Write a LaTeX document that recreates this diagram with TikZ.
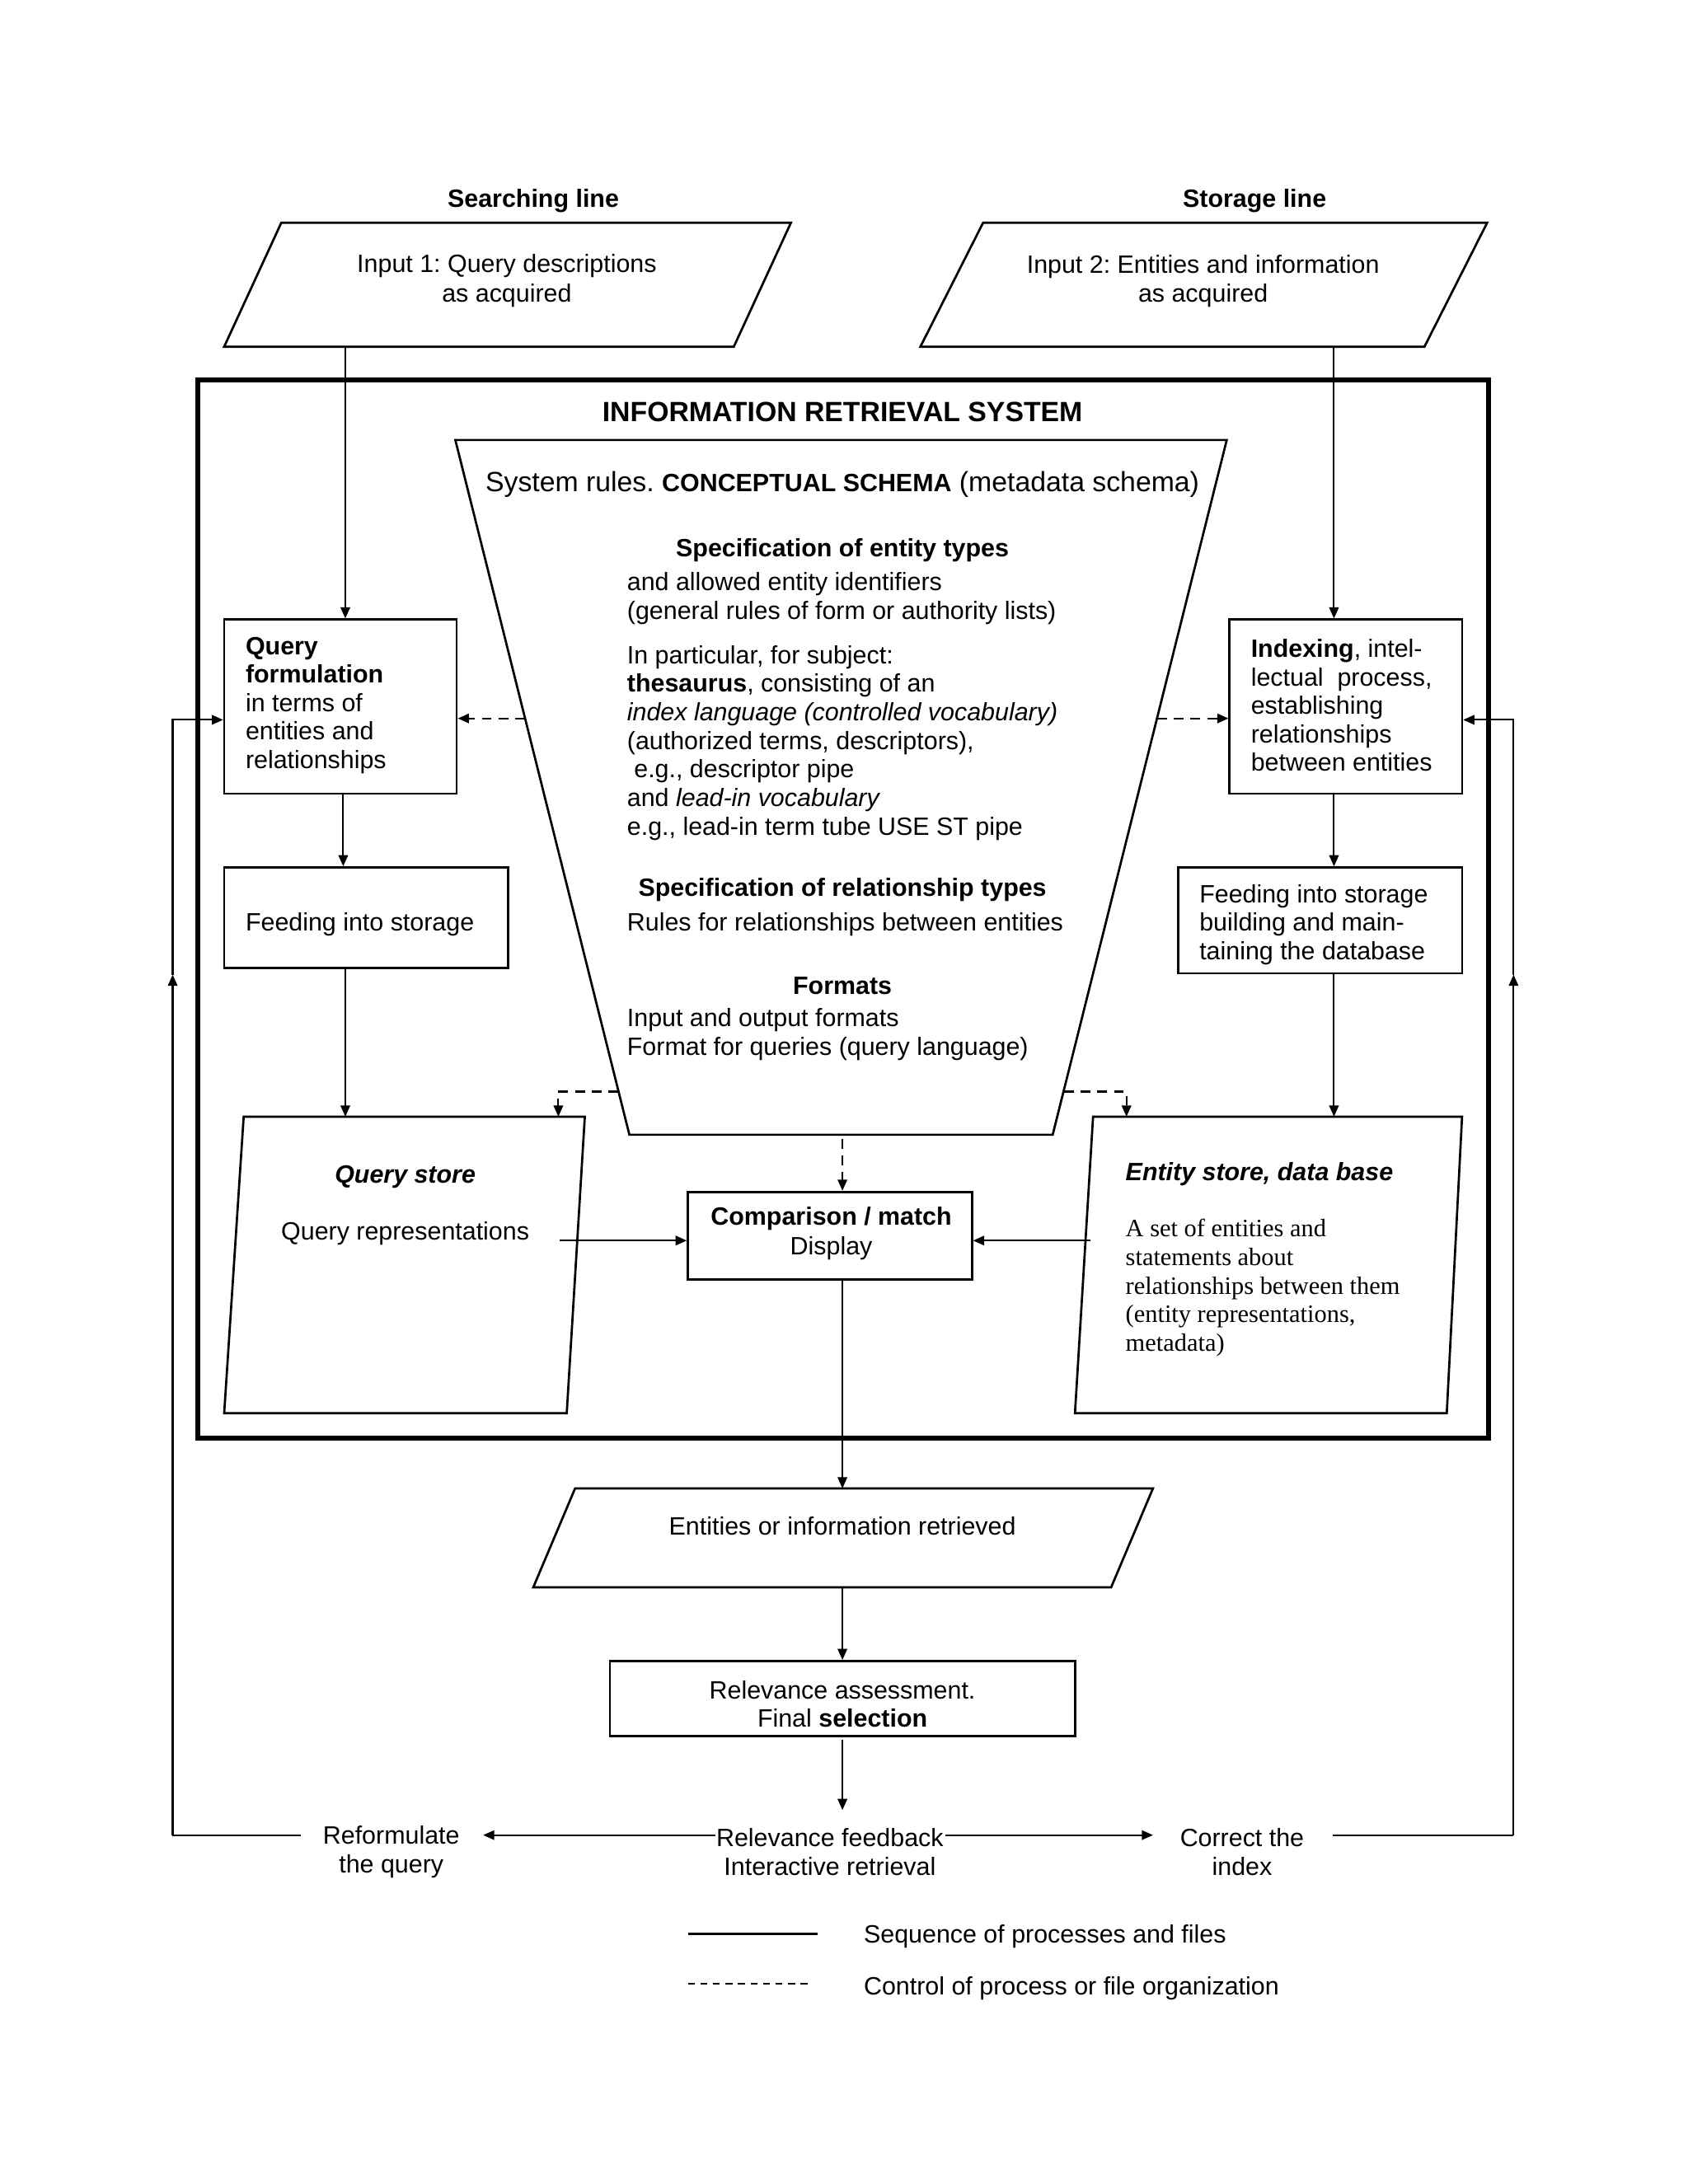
\documentclass[tikz,border=0pt]{standalone}
\usepackage{fontspec}
\setmainfont{Liberation Sans}
\newfontfamily\seriffont{Liberation Serif}
\usetikzlibrary{arrows.meta,calc}
\frenchspacing
\begin{document}
\frenchspacing
\begin{tikzpicture}[x=0.5pt,y=-0.5pt,
  txtbase/.style={font=\fontsize{9}{10.2}\selectfont, inner sep=0pt, yshift=-1pt},
  lbl/.style={txtbase, align=left, anchor=west},
  ctr/.style={txtbase, align=center},
  procbox/.style={draw, line width=0.8pt, inner sep=0pt},
  shapeline/.style={line width=0.8pt, line join=miter},
  arr/.style={line width=0.6pt, -{Triangle[length=4pt,width=3.4pt]}},
  darr/.style={arr, dash pattern=on 3.5pt off 2.5pt},
  thinline/.style={line width=0.6pt}]
\useasboundingbox (0,0) rectangle (1212.2,1568.6);

% titles
\node[ctr] (tsearch) at (383,142) {\textbf{Searching line}};
\node[ctr] (tstore) at (901,142) {\textbf{Storage line}};

% inputs
\draw[shapeline] (202,160) -- (568,160) -- (527,249) -- (161,249) -- cycle;
\node[ctr, font=\fontsize{9}{10.5}\selectfont] (in1) at (364,199.5) {Input 1: Query descriptions\\as acquired};
\draw[shapeline] (706,160) -- (1068,160) -- (1023,249) -- (661,249) -- cycle;
\node[ctr, font=\fontsize{9}{10.5}\selectfont] (in2) at (864,200) {Input 2: Entities and information\\as acquired};
\coordinate (in1b) at (248,249);
\coordinate (in2b) at (958,249);

% IRS frame
\draw[line width=1.8pt] (142,273) rectangle (1069,1033);
\node[ctr] (irs) at (605,294) {\fontsize{10}{12}\selectfont\bfseries INFORMATION RETRIEVAL SYSTEM};

% conceptual schema trapezoid
\draw[shapeline] (327,316) -- (881,316) -- (756,815) -- (452,815) -- cycle;
\node[ctr] (schema) at (605,346) {\fontsize{10}{12}\selectfont System rules. {\fontsize{9}{12}\selectfont\bfseries CONCEPTUAL SCHEMA} (metadata schema)};
\node[ctr] (spec1) at (605,393) {\textbf{Specification of entity types}};
\node[lbl, font=\fontsize{9}{10.25}\selectfont] (g1) at (450,428) {and allowed entity identifiers\\(general rules of form or authority lists)};
\node[lbl, font=\fontsize{9}{10.25}\selectfont] (g2) at (450,531.5) {In particular, for subject:\\\textbf{thesaurus}, consisting of an\\\textit{index language (controlled vocabulary)}\\(authorized terms, descriptors),\\\hspace{2.5pt}e.g., descriptor pipe\\and \textit{lead-in vocabulary}\\e.g., lead-in term tube USE ST pipe};
\node[ctr] (spec2) at (605,637) {\textbf{Specification of relationship types}};
\node[lbl] (g3) at (450,662) {Rules for relationships between entities};
\node[ctr] (spec3) at (605,706) {\textbf{Formats}};
\node[lbl, font=\fontsize{9}{10.25}\selectfont] (g4) at (450,741) {Input and output formats\\Format for queries (query language)};

% left column
\node[procbox, minimum width=83.5pt, minimum height=62.5pt] (qf) at (244.5,507.5) {};
\node[lbl] (qft) at (176,504.5) {\textbf{Query}\\\textbf{formulation}\\in terms of\\entities and\\relationships};
\node[procbox, minimum width=102pt, minimum height=36pt] (feedL) at (263,659) {};
\node[lbl] (feedLt) at (176,662) {Feeding into storage};

\draw[shapeline] (175,802) -- (420,802) -- (407,1015) -- (161,1015) -- cycle;
\node[ctr] (qst) at (291,843) {\textbf{\textit{Query store}}};
\node[ctr] (qrep) at (291,884) {Query representations};

% right column
\node[procbox, minimum width=83.5pt, minimum height=62.5pt] (idx) at (966.5,507.5) {};
\node[lbl] (idxt) at (898,504.5) {\textbf{Indexing}, intel-\\lectual\ \ process,\\establishing\\relationships\\between entities};
\node[procbox, minimum width=102pt, minimum height=38pt] (feedR) at (948,661) {};
\node[lbl] (feedRt) at (861,662) {Feeding into storage\\building and main-\\taining the database};

\draw[shapeline] (785,802) -- (1050,802) -- (1039,1015) -- (772,1015) -- cycle;
\node[lbl] (est) at (808,841) {\textbf{\textit{Entity store, data base}}};
\node[lbl, font=\seriffont\fontsize{9}{10.25}\selectfont] (esd) at (808,923) {A set of entities and\\statements about\\relationships between them\\(entity representations,\\metadata)};

% comparison
\node[procbox, minimum width=102pt, minimum height=31.5pt] (comp) at (596,887.5) {};
\node[ctr, font=\fontsize{9}{10.5}\selectfont] (compt) at (597,884) {\textbf{Comparison / match}\\Display};

% output
\draw[shapeline] (413,1069) -- (828,1069) -- (798,1140) -- (383,1140) -- cycle;
\node[ctr] (ert) at (605,1094) {Entities or information retrieved};
\node[procbox, minimum width=167pt, minimum height=27pt] (rel) at (605,1220) {};
\node[ctr] (relt) at (605,1222) {Relevance assessment.\\Final \textbf{selection}};

% bottom labels
\node[ctr] (reform) at (281,1328) {Reformulate\\the query};
\node[ctr] (relfb) at (596,1328) {Relevance feedback\\Interactive retrieval};
\node[ctr] (correct) at (892,1328) {Correct the\\index};

% legend
\coordinate (lg1a) at (494,1389); \coordinate (lg1b) at (587,1389);
\coordinate (lg2a) at (494,1425); \coordinate (lg2b) at (583,1425);
\draw[line width=0.8pt] (lg1a) -- (lg1b);
\draw[line width=0.6pt, dash pattern=on 2.5pt off 2pt] (lg2a) -- (lg2b);
\node[lbl] (lgt1) at (620,1389) {Sequence of processes and files};
\node[lbl] (lgt2) at (620,1426) {Control of process or file organization};

% coordinates for connectors
\coordinate (qsT1) at (248,802);
\coordinate (esT) at (958,802);
\coordinate (trL) at (377,516);
\coordinate (trR) at (831,516);
\coordinate (trLL) at (444,784);
\coordinate (qsT2) at (401,802);
\coordinate (trLR) at (764,784);
\coordinate (esT2) at (809,802);
\coordinate (trB) at (605,818);
\coordinate (qrE) at (402,891);
\coordinate (esW) at (783,891);
\coordinate (erT) at (605,1069);
\coordinate (erB) at (605,1140);
\coordinate (fbT) at (605,1300);
\coordinate (fbL) at (514,1318);
\coordinate (fbR) at (679,1318);
\coordinate (refR) at (347,1318);
\coordinate (corL) at (828,1318);
\coordinate (refL) at (216,1318);
\coordinate (corR) at (957,1318);
\coordinate (lloopB) at (124,1318);
\coordinate (lloopM) at (124,700);
\coordinate (lloopT) at (124,517);
\coordinate (rloopB) at (1087,1318);
\coordinate (rloopM) at (1087,700);
\coordinate (rloopT) at (1087,517);

% solid connectors
\draw[arr] (in1b) -- (in1b |- qf.north);
\draw[arr] (in2b) -- (in2b |- idx.north);
\draw[arr] ([xshift=1pt]qf.south) -- ([xshift=1pt]qf.south |- feedL.north);
\draw[arr] (feedL.south -| qsT1) -- (qsT1);
\draw[arr] (idx.south -| in2b) -- (feedR.north -| in2b);
\draw[arr] (feedR.south -| esT) -- (esT);
\draw[arr] (qrE) -- (qrE -| comp.west);
\draw[arr] (esW) -- (esW -| comp.east);
\draw[arr] (comp.south -| erT) -- (erT);
\draw[arr] (erB) -- (erB |- rel.north);
\draw[arr] ([yshift=-1pt]rel.south) -- (fbT);
\draw[arr] (fbL) -- (refR);
\draw[arr] (fbR) -- (corL);

% dashed control connectors
\draw[darr] (trL) -- (trL -| qf.east);
\draw[darr] (trR) -- (trR -| idx.west);
\draw[darr] (trLL) -| (qsT2);
\draw[darr] (trLR) -| (esT2);
\draw[darr] (trB) -- (trB |- comp.north);

% feedback loops
\draw[thinline] (refL) -- (lloopB);
\draw[arr] (lloopB) -- (lloopM);
\draw[arr] (lloopM) -- (lloopT) -- (lloopT -| qf.west);
\draw[thinline] (corR) -- (rloopB);
\draw[arr] (rloopB) -- (rloopM);
\draw[arr] (rloopM) -- (rloopT) -- (rloopT -| idx.east);
\end{tikzpicture}
\end{document}
